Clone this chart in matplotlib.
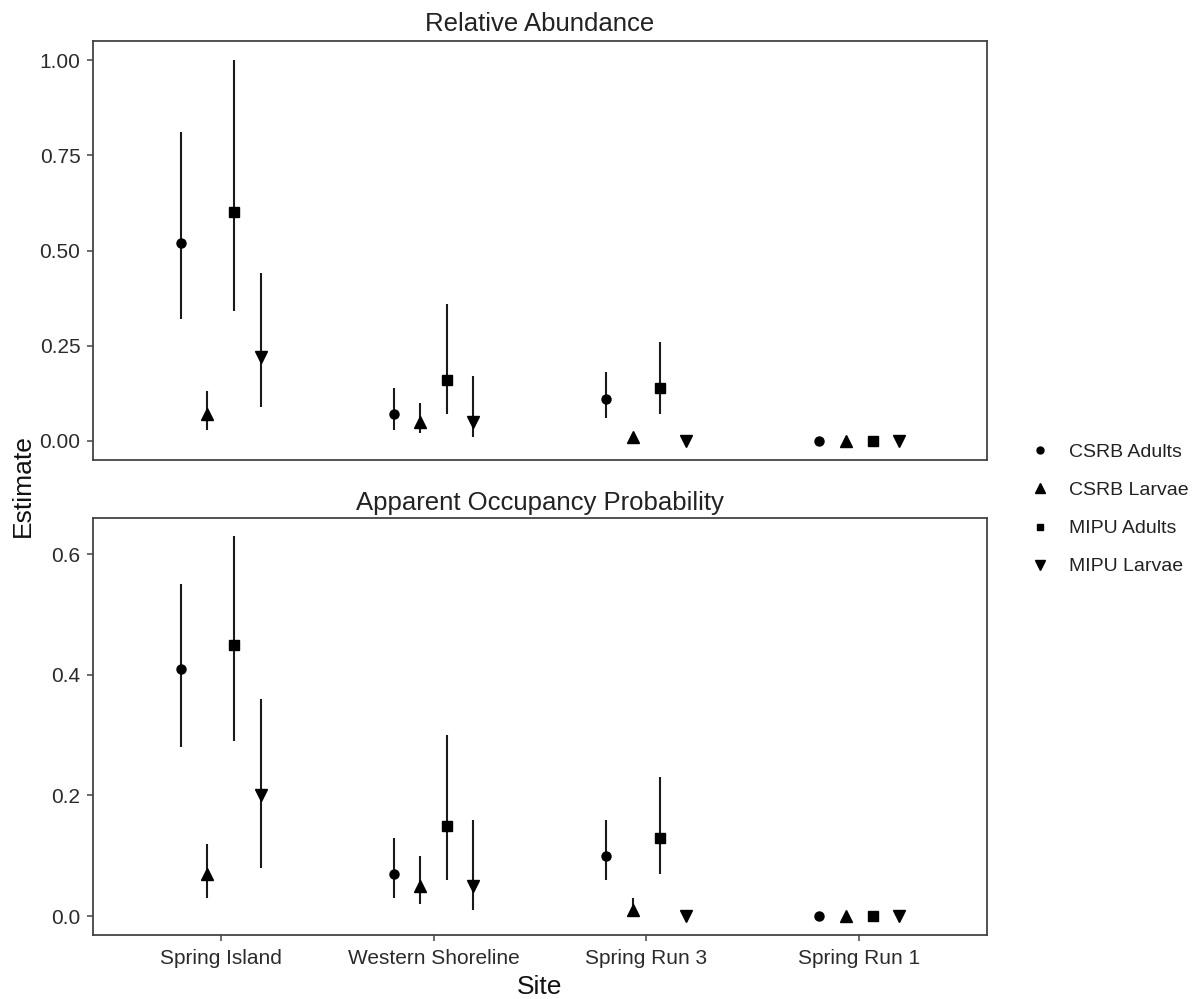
import numpy as np
import matplotlib
matplotlib.use("Agg")
import matplotlib.pyplot as plt
from matplotlib.lines import Line2D

plt.rcParams['font.family'] = ['Liberation Sans', 'DejaVu Sans']

sites = ["Spring Island", "Western Shoreline", "Spring Run 3", "Spring Run 1"]
groups = ["CSRB Adults", "CSRB Larvae", "MIPU Adults", "MIPU Larvae"]
markers = ["o", "^", "s", "v"]
marker_sizes = [6.5, 8.5, 6.5, 8.5]

# Relative Abundance (rows = groups, columns = sites)
ra_est = [[0.52, 0.07, 0.11, 0.0],
          [0.07, 0.05, 0.01, 0.0],
          [0.60, 0.16, 0.14, 0.0],
          [0.22, 0.05, 0.00, 0.0]]
ra_lo = [[0.32, 0.03, 0.06, 0.0],
         [0.03, 0.02, 0.00, 0.0],
         [0.34, 0.07, 0.07, 0.0],
         [0.09, 0.01, 0.00, 0.0]]
ra_hi = [[0.81, 0.14, 0.18, 0.0],
         [0.13, 0.10, 0.02, 0.0],
         [1.00, 0.36, 0.26, 0.0],
         [0.44, 0.17, 0.00, 0.0]]

# Apparent Occupancy Probability
oc_est = [[0.41, 0.07, 0.10, 0.0],
          [0.07, 0.05, 0.01, 0.0],
          [0.45, 0.15, 0.13, 0.0],
          [0.20, 0.05, 0.00, 0.0]]
oc_lo = [[0.28, 0.03, 0.06, 0.0],
         [0.03, 0.02, 0.00, 0.0],
         [0.29, 0.06, 0.07, 0.0],
         [0.08, 0.01, 0.00, 0.0]]
oc_hi = [[0.55, 0.13, 0.16, 0.0],
         [0.12, 0.10, 0.03, 0.0],
         [0.63, 0.30, 0.23, 0.0],
         [0.36, 0.16, 0.00, 0.0]]

fig = plt.figure(figsize=(11.98, 9.99), dpi=100)
ax1 = fig.add_axes([0.0776, 0.5395, 0.7462, 0.4194])
ax2 = fig.add_axes([0.0776, 0.064, 0.7462, 0.4174])

offsets = [-0.1875, -0.0625, 0.0625, 0.1875]
xbase = np.arange(1, len(sites) + 1)
line_col = "#1a1a1a"
text_col = "#2b2b2b"
frame_col = "#444444"


def draw(ax, est, lo, hi):
    for g in range(len(groups)):
        x = xbase + offsets[g]
        ax.vlines(x, lo[g], hi[g], color=line_col, lw=1.5)
        ax.plot(x, est[g], linestyle="none", marker=markers[g],
                markersize=marker_sizes[g], color="black", mec="black")
    ax.set_xlim(0.4, 4.6)
    for s in ax.spines.values():
        s.set_color(frame_col)
        s.set_linewidth(1.3)
    ax.tick_params(axis="both", colors=frame_col, length=4, width=1.1,
                   labelsize=15, labelcolor=text_col, direction="out", pad=5)


draw(ax1, ra_est, ra_lo, ra_hi)
draw(ax2, oc_est, oc_lo, oc_hi)

ax1.set_ylim(-0.05, 1.05)
ax1.set_yticks([0.0, 0.25, 0.5, 0.75, 1.0])
ax1.set_yticklabels(["0.00", "0.25", "0.50", "0.75", "1.00"])
ax1.set_xticks([])

ax2.set_ylim(-0.0315, 0.66)
ax2.set_yticks([0.0, 0.2, 0.4, 0.6])
ax2.set_yticklabels(["0.0", "0.2", "0.4", "0.6"])
ax2.set_xticks(xbase)
ax2.set_xticklabels(sites)
ax2.tick_params(axis="x", pad=6)

ax1.set_title("Relative Abundance", fontsize=18.5, color="#222222", pad=7)
ax2.set_title("Apparent Occupancy Probability", fontsize=18.5, color="#222222", pad=6)

fig.text(0.019, 0.514, "Estimate", rotation=90, fontsize=19, color="#111111",
         ha="center", va="center")
fig.text(0.450, 0.0, "Site", fontsize=19, color="#111111", ha="center", va="bottom")

handles = [Line2D([], [], linestyle="none", marker=markers[g],
                  markersize=marker_sizes[g] - 1.5, color="black")
           for g in range(len(groups))]
fig.legend(handles, groups, loc="center left", bbox_to_anchor=(0.845, 0.49),
           frameon=False, fontsize=14, handlelength=1.0, handletextpad=1.0,
           labelspacing=1.05, labelcolor="#222222")

fig.savefig("out.png", dpi=100)
